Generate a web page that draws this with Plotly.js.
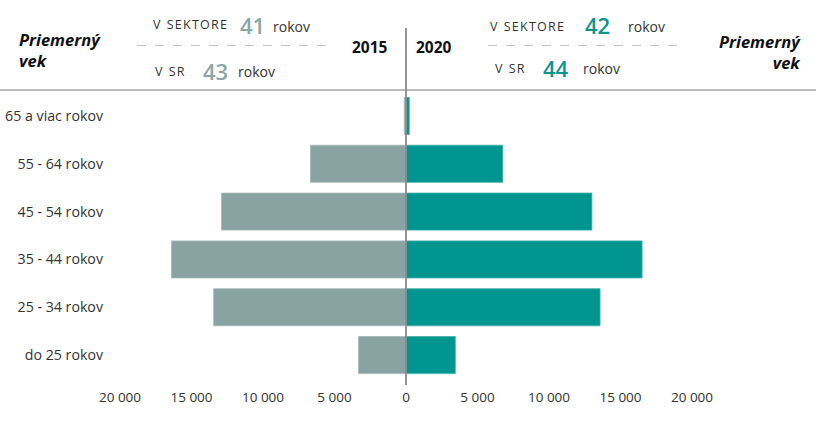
<!DOCTYPE html>
<html>
<head>
<meta charset="utf-8">
<script src="https://cdn.plot.ly/plotly-3.0.1.min.js"></script>
<style>html,body{margin:0;padding:0;background:#fff;}#chart{width:816px;height:424px;}</style>
</head>
<body>
<div id="chart"></div>
<script>
// ---- data ----
const categories = ["do 25 rokov", "25 - 34 rokov", "35 - 44 rokov", "45 - 54 rokov", "55 - 64 rokov", "65 a viac rokov"];
const values2015 = [3320, 13450, 16400, 12900, 6680, 120];
const values2020 = [3450, 13570, 16510, 13000, 6770, 230];
const tickValues = [-20000, -15000, -10000, -5000, 0, 5000, 10000, 15000, 20000];
const tickLabels = ["20 000", "15 000", "10 000", "5 000", "0", "5 000", "10 000", "15 000", "20 000"];
const avgSector2015 = "41", avgSR2015 = "43", avgSector2020 = "42", avgSR2020 = "44";

// ---- layout geometry ----
const W = 816, H = 424;
const M = {l: 120, r: 124, t: 92, b: 45};
const pw = W - M.l - M.r, ph = H - M.t - M.b;
const px = x => (x - M.l) / pw;
const py = y => 1 + (M.t - y) / ph;

const FONT = "Open Sans, Noto Sans, sans-serif";
const GRAY = "#89a3a2", TEAL = "#00968f";
const GRAYTXT = "#8aa6a5", TEALTXT = "#0b958f", DARK = "#333333";
const HS = "\u200A", WS = "\u2002";
const spaced = s => s.split(" ").map(w => w.split("").join(HS)).join(WS);

const traces = [
  {type: "bar", orientation: "h", y: categories, x: values2015.map(v => -v), name: "2015",
   marker: {color: GRAY, line: {color: "#a3b8b7", width: 0.8}}, hoverinfo: "none"},
  {type: "bar", orientation: "h", y: categories, x: values2020, name: "2020",
   marker: {color: TEAL, line: {color: "#3fb0aa", width: 0.8}}, hoverinfo: "none"}
];

function ann(text, x, y, opts) {
  return Object.assign({text: text, xref: "paper", yref: "paper", x: px(x), y: py(y),
    xanchor: "left", yanchor: "middle", showarrow: false,
    font: {family: FONT, size: 13, color: DARK}}, opts || {});
}
const capFont = {family: FONT, size: 12.5, color: DARK};
const numFont = c => ({family: FONT, size: 22, color: c, weight: 600});
const rokFont = {family: FONT, size: 14, color: DARK};
const headFont = {family: FONT, size: 16.5, color: "#111"};

const annotations = [
  ann("<b><i>Priemerný<br>vek</i></b>", 17, 26, {yanchor: "top", align: "left", font: headFont}),
  ann("<b><i>Priemerný<br>vek</i></b>", 803, 28, {xanchor: "right", yanchor: "top", align: "right", font: headFont}),
  ann(spaced("V SEKTORE"), 151, 25, {font: capFont}),
  ann(avgSector2015, 238, 25, {font: numFont(GRAYTXT)}),
  ann("rokov", 271, 26, {font: rokFont}),
  ann(spaced("V SR"), 153, 72, {font: capFont}),
  ann(avgSR2015, 201, 71, {font: numFont(GRAYTXT)}),
  ann("rokov", 236, 72, {font: rokFont}),
  ann("<b>2015</b>", 350, 47, {font: {family: FONT, size: 15.5, color: "#111"}}),
  ann("<b>2020</b>", 414, 47, {font: {family: FONT, size: 15.5, color: "#111"}}),
  ann(spaced("V SEKTORE"), 488, 26, {font: capFont}),
  ann(avgSector2020, 583, 25, {font: numFont(TEALTXT)}),
  ann("rokov", 626, 26, {font: rokFont}),
  ann(spaced("V SR"), 493, 68, {font: capFont}),
  ann(avgSR2020, 541, 68, {font: numFont(TEALTXT)}),
  ann("rokov", 581, 68, {font: rokFont})
];

const shapes = [
  {type: "line", xref: "paper", yref: "paper", x0: px(0), x1: px(816), y0: py(90), y1: py(90),
   line: {color: "#a6a6a6", width: 1.5}},
  {type: "line", xref: "x", yref: "paper", x0: 0, x1: 0, y0: py(385), y1: py(28),
   line: {color: "#8c8c8c", width: 1.8}},
  {type: "line", xref: "paper", yref: "paper", x0: px(137), x1: px(333), y0: py(45.5), y1: py(45.5),
   line: {color: "#c4c4c4", width: 1, dash: "dash"}},
  {type: "line", xref: "paper", yref: "paper", x0: px(488), x1: px(684), y0: py(45.5), y1: py(45.5),
   line: {color: "#c4c4c4", width: 1, dash: "dash"}}
];

const layout = {
  width: W, height: H, margin: M,
  paper_bgcolor: "#fff", plot_bgcolor: "#fff",
  showlegend: false, barmode: "overlay", bargap: 0.225,
  font: {family: FONT, size: 13, color: DARK},
  xaxis: {range: [-20000, 20000], tickvals: tickValues, ticktext: tickLabels,
    showgrid: false, zeroline: false, showline: false, ticks: "",
    ticklabelstandoff: 8, tickfont: {family: FONT, size: 13.5, color: DARK}, fixedrange: true},
  yaxis: {type: "category", categoryorder: "array", categoryarray: categories,
    showgrid: false, zeroline: false, showline: false, ticks: "",
    ticklabelstandoff: 16, tickfont: {family: FONT, size: 14.2, color: DARK}, fixedrange: true},
  annotations: annotations, shapes: shapes
};

Plotly.newPlot("chart", traces, layout, {displayModeBar: false, staticPlot: true});
</script>
</body>
</html>
